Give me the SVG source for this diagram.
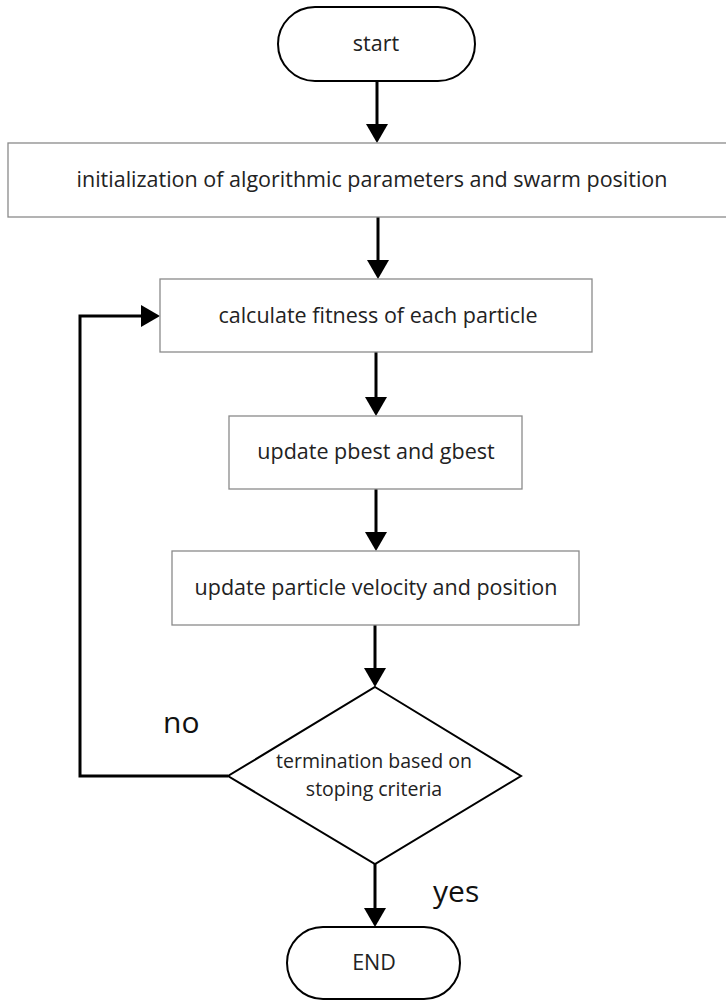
<svg xmlns="http://www.w3.org/2000/svg" width="726" height="1001" viewBox="0 0 726 1001">
<defs>
<style>
.box{fill:#fff;stroke:#8a8a8a;stroke-width:1.3}
.term{fill:#fff;stroke:#000;stroke-width:2}
.dia{fill:#fff;stroke:#000;stroke-width:2}
.t{font-family:"Open Sans","Liberation Sans",sans-serif;font-size:21.5px;fill:#222;text-anchor:middle}
.td{font-size:19.5px}
.lbl{font-family:"Open Sans","Liberation Sans",sans-serif;font-size:30px;fill:#111}
.c{fill:none;stroke:#000;stroke-width:3}
.h{fill:#000}
</style>
</defs>
<rect width="726" height="1001" fill="#fff"/>
<g id="connectors">
<path class="c" d="M377,81 V124"/><path class="h" d="M366,124 L388,124 L377,143 Z"/>
<path class="c" d="M378,217 V260"/><path class="h" d="M367,260 L389,260 L378,279 Z"/>
<path class="c" d="M376,352 V397"/><path class="h" d="M365,397 L387,397 L376,416 Z"/>
<path class="c" d="M376,489 V532"/><path class="h" d="M365,532 L387,532 L376,551 Z"/>
<path class="c" d="M375,625 V668"/><path class="h" d="M364,668 L386,668 L375,687 Z"/>
<path class="c" d="M375,864 V908"/><path class="h" d="M364,908 L386,908 L375,927 Z"/>
<path class="c" d="M228,776 H80 V316 H141"/><path class="h" d="M141,305 L141,327 L160,316 Z"/>
</g>
<g id="start">
<rect class="term" x="278" y="7" width="197" height="74" rx="37"/>
<text class="t" x="376" y="51">start</text>
</g>
<g id="init">
<rect class="box" x="8" y="143" width="730" height="74"/>
<text class="t" x="372" y="187">initialization of algorithmic parameters and swarm position</text>
</g>
<g id="fitness">
<rect class="box" x="160" y="279" width="432" height="73"/>
<text class="t" x="378" y="323">calculate fitness of each particle</text>
</g>
<g id="pbest">
<rect class="box" x="229" y="416" width="293" height="73"/>
<text class="t" x="376" y="459">update pbest and gbest</text>
</g>
<g id="velocity">
<rect class="box" x="172" y="551" width="407" height="74"/>
<text class="t" x="376" y="595">update particle velocity and position</text>
</g>
<g id="decision">
<polygon class="dia" points="375,687 521,776 375,864 228,776"/>
<text class="t td" x="374" y="768">termination based on</text>
<text class="t td" x="374" y="796">stoping criteria</text>
</g>
<g id="end">
<rect class="term" x="287" y="927" width="173" height="72" rx="36"/>
<text class="t" x="374" y="970">END</text>
</g>
<text class="lbl" x="163" y="733">no</text>
<text class="lbl" x="433" y="902">yes</text>
</svg>
